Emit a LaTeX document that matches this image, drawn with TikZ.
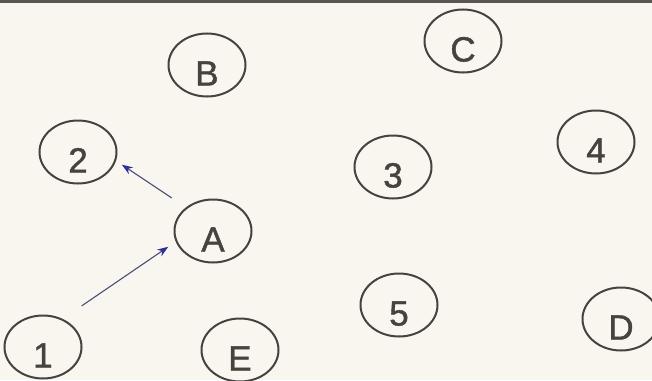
\documentclass[tikz,border=0pt]{standalone}
\usepackage{fontspec}
\setmainfont{Liberation Sans}
\newfontfamily\labelfont{Liberation Sans}[FakeBold=1.2]
\usetikzlibrary{shapes.geometric,arrows.meta}
\definecolor{paper}{HTML}{F8F6EE}
\definecolor{ink}{HTML}{46423F}
\definecolor{rule}{HTML}{5A5652}
\definecolor{wire}{HTML}{4C4C78}
\definecolor{tip}{HTML}{2E2E9C}
\begin{document}
\begin{tikzpicture}[
    x=1pt, y=-1pt,
    every node/.style={draw=ink,ellipse,line width=2pt,minimum width=77pt,minimum height=63pt,
        inner sep=0pt,text=ink,text height=41pt,text depth=0pt,
        font=\labelfont\fontsize{35}{35}\selectfont},
    link/.style={draw=wire,line width=1.1pt,-{Stealth[length=11pt,width=8pt,color=tip]}}
]
\fill[paper] (0,0) rectangle (652,380);
\clip (0,0) rectangle (652,380);
\draw[rule,line width=3pt] (0,1) -- (652,1);
\node (nB) at (207,65) {B};
\node (nC) at (463,41) {C};
\node (n2) at (78,152) {2};
\node (nA) at (213,231) {A};
\node (n3) at (393,167) {3};
\node (n4) at (596,142) {4};
\node (n5) at (399,305) {5};
\node (nD) at (621,319) {D};
\node (n1) at (43,347) {1};
\node (nE) at (240,350) {E};
\draw[link,shorten <=17pt,shorten >=7pt] (nA.139) -- (n2.-13);
\draw[link,shorten <=23pt,shorten >=9pt] (n1.55) -- (nA.196);
\end{tikzpicture}
\end{document}
